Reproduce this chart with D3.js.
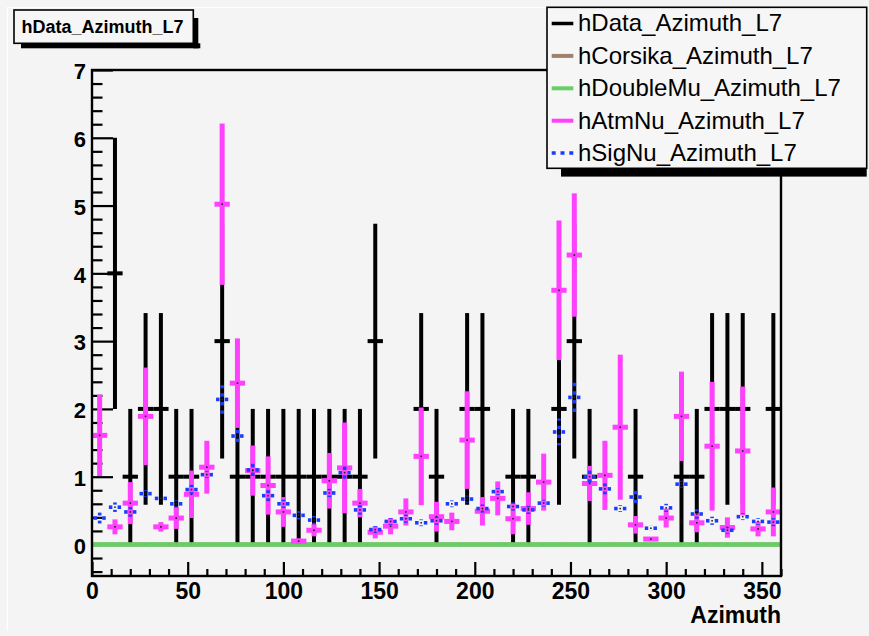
<!DOCTYPE html>
<html>
<head>
<meta charset="utf-8">
<script src="https://cdn.jsdelivr.net/npm/d3@7"></script>
<style>
  html, body { margin: 0; padding: 0; background: #f4f4f4; }
  svg { display: block; }
  text { font-family: "Liberation Sans", Arial, Helvetica, sans-serif; }
</style>
</head>
<body>
<svg id="chart" width="869" height="636"></svg>
<script>
// Azimuth binning: 45 bins of 8 degrees between 0 and 360
const binEdges = d3.range(0, 361, 8);

// hData_Azimuth_L7 : event counts and their errors
const dataCounts = [0,4,1,2,2,1,1,0,3,1,1,1,1,1,1,1,1,1,3,0,0,2,1,0,2,2,0,1,1,0,2,3,1,0,0,1,0,0,1,1,2,2,2,0,2];
const dataErrors = [0,2,1,1.414,1.414,1,1,0,1.732,1,1,1,1,1,1,1,1,1,1.732,0,0,1.414,1,0,1.414,1.414,0,1,1,0,1.414,1.732,1,0,0,1,0,0,1,1,1.414,1.414,1.414,0,1.414];

// hCorsika_Azimuth_L7 and hDoubleMu_Azimuth_L7 : empty in every bin
const corsikaValues  = new Array(45).fill(0);
const doubleMuValues = new Array(45).fill(0);

// hAtmNu_Azimuth_L7 : weighted expectation and errors
const atmNuValues = [1.61,0.26,0.61,1.89,0.26,0.39,0.74,1.14,5.02,2.38,1.09,0.87,0.48,0.05,0.21,0.94,1.13,0.61,0.18,0.27,0.48,1.30,0.41,0.34,1.54,0.49,0.68,0.38,0.53,0.92,3.75,4.27,0.90,1.02,1.73,0.29,0.08,0.39,1.89,0.32,1.45,0.25,1.38,0.23,0.48];
const atmNuErrors = [0.60,0.11,0.31,0.72,0.07,0.16,0.35,0.39,1.19,0.66,0.37,0.43,0.22,0.04,0.09,0.41,0.67,0.21,0.09,0.12,0.20,0.72,0.22,0.13,0.72,0.21,0.25,0.23,0.24,0.42,1.03,0.91,0.26,0.51,1.07,0.13,0.03,0.14,0.66,0.14,0.95,0.15,0.95,0.11,0.36];

// hSigNu_Azimuth_L7 : weighted signal expectation and errors
const sigNuValues = [0.39,0.55,0.48,0.75,0.68,0.60,0.81,1.03,2.14,1.60,1.10,0.72,0.60,0.43,0.36,0.76,1.06,0.51,0.22,0.34,0.38,0.32,0.35,0.60,0.67,0.53,0.78,0.56,0.51,0.61,1.66,2.17,1.00,0.82,0.53,0.70,0.24,0.54,0.89,0.45,0.35,0.21,0.41,0.34,0.33];
const sigNuErrors = [0.08,0.07,0.07,0.05,0.04,0.05,0.07,0.05,0.21,0.15,0.14,0.08,0.06,0.06,0.06,0.06,0.11,0.07,0.05,0.05,0.06,0.05,0.06,0.05,0.05,0.06,0.05,0.06,0.06,0.05,0.20,0.22,0.10,0.08,0.05,0.14,0.04,0.06,0.05,0.07,0.06,0.05,0.05,0.05,0.06];

// Axis ticks and legend entries
const xMajorTicks = [0,50,100,150,200,250,300,350];
const xMinorTicks = d3.range(0, 361, 10).filter(v => v % 50 !== 0);
const yMajorTicks = [0,1,2,3,4,5,6,7];
const yMinorTicks = d3.range(-0.4, 7.0001, 0.2).map(v => +v.toFixed(1)).filter(v => Math.abs(v - Math.round(v)) > 1e-6);
const legendNames = ["hData_Azimuth_L7","hCorsika_Azimuth_L7","hDoubleMu_Azimuth_L7","hAtmNu_Azimuth_L7","hSigNu_Azimuth_L7"];
const legendColors = ["#000000","#a0806e","#66d066","#ff40ff","#1a3cff"];

const svg = d3.select("#chart");
const W = 869, H = 636;
const frame = {left: 92, right: 781, top: 70, bottom: 576};

const x = d3.scaleLinear().domain([0, 360]).range([frame.left, frame.right]);
const y = d3.scaleLinear().domain([-0.465, 7]).range([frame.bottom, frame.top]);

// canvas background and pad edge
svg.append("rect").attr("width", W).attr("height", H).attr("fill", "#f4f4f4");
svg.append("path")
  .attr("d", "M7.5,630.5 V7.5 H864.5")
  .attr("fill", "none").attr("stroke", "#ffffff").attr("stroke-width", 1.2);

const plot = svg.append("g");
plot.append("clipPath").attr("id", "frameClip")
  .append("rect").attr("x", frame.left).attr("y", frame.top)
  .attr("width", frame.right - frame.left).attr("height", frame.bottom - frame.top);

// axes first, histograms are painted over the ticks
const axes = plot.append("g");
const yAxisMajor = d3.axisLeft(y).tickValues(yMajorTicks).tickFormat(d3.format("d"))
  .tickSizeInner(-21).tickSizeOuter(0).tickPadding(6);
const yAxisMinor = d3.axisLeft(y).tickValues(yMinorTicks).tickFormat("")
  .tickSizeInner(-10.5).tickSizeOuter(0);
const xAxisMajor = d3.axisBottom(x).tickValues(xMajorTicks).tickFormat(d3.format("d"))
  .tickSizeInner(-14).tickSizeOuter(0).tickPadding(7);
const xAxisMinor = d3.axisBottom(x).tickValues(xMinorTicks).tickFormat("")
  .tickSizeInner(-7).tickSizeOuter(0);

function styleAxis(sel) {
  sel.select(".domain").remove();
  sel.selectAll(".tick line").attr("stroke", "#000").attr("stroke-width", 2.2);
}

axes.append("g").attr("transform", `translate(${frame.left},0)`).call(yAxisMinor).call(styleAxis);
const yg = axes.append("g").attr("transform", `translate(${frame.left},0)`).call(yAxisMajor).call(styleAxis);
yg.selectAll(".tick text")
  .attr("font-size", 22).attr("font-weight", "bold").attr("fill", "#000")
  .attr("dy", "0.40em").attr("font-family", "Liberation Sans, Arial, sans-serif");

axes.append("g").attr("transform", `translate(0,${frame.bottom})`).call(xAxisMinor).call(styleAxis);
const xg = axes.append("g").attr("transform", `translate(0,${frame.bottom})`).call(xAxisMajor).call(styleAxis);
xg.selectAll(".tick text")
  .attr("font-size", 23).attr("font-weight", "bold").attr("fill", "#000")
  .attr("font-family", "Liberation Sans, Arial, sans-serif");

const hists = plot.append("g").attr("clip-path", "url(#frameClip)");

// One histogram drawn as error crosses: horizontal bar across the bin, vertical bar for the error
function drawHist(values, errors, opts) {
  const g = hists.append("g")
    .attr("stroke", opts.color).attr("stroke-width", opts.width).attr("fill", "none");
  if (opts.dash) g.attr("stroke-dasharray", opts.dash);
  values.forEach((v, i) => {
    if (opts.skipEmpty && v === 0) return;
    const lo = binEdges[i], hi = binEdges[i + 1];
    const c = (lo + hi) / 2;
    const cx = x(c), cy = y(v);
    const gap = opts.gap || 0;
    const e = errors ? errors[i] : 0;
    // horizontal halves
    g.append("line").attr("x1", cx - gap).attr("x2", x(lo)).attr("y1", cy).attr("y2", cy);
    g.append("line").attr("x1", cx + gap).attr("x2", x(hi)).attr("y1", cy).attr("y2", cy);
    // vertical halves
    if (e > 0) {
      const up = y(v + e), dn = y(v - e);
      if (cy - gap > up) g.append("line").attr("x1", cx).attr("x2", cx).attr("y1", cy - gap).attr("y2", up);
      if (cy + gap < dn) g.append("line").attr("x1", cx).attr("x2", cx).attr("y1", cy + gap).attr("y2", dn);
    }
    if (opts.dot) {
      hists.append("rect").attr("x", cx - 0.8).attr("y", cy - 0.8)
        .attr("width", 1.6).attr("height", 1.6).attr("fill", "#222");
    }
  });
}

drawHist(dataCounts, dataErrors, {color: "#000000", width: 4, skipEmpty: true});

// flat Corsika and DoubleMu histograms along zero
hists.append("line").attr("x1", frame.left).attr("x2", frame.right)
  .attr("y1", y(corsikaValues[0])).attr("y2", y(corsikaValues[0]))
  .attr("stroke", legendColors[1]).attr("stroke-width", 4);
drawHist(doubleMuValues, null, {color: legendColors[2], width: 4.5});

drawHist(atmNuValues, atmNuErrors, {color: legendColors[3], width: 5, dot: true});
drawHist(sigNuValues, sigNuErrors, {color: legendColors[4], width: 3.6, dash: "3.5,5", gap: 2.6, dot: true});

// frame
plot.append("rect")
  .attr("x", frame.left).attr("y", frame.top)
  .attr("width", frame.right - frame.left).attr("height", frame.bottom - frame.top)
  .attr("fill", "none").attr("stroke", "#000").attr("stroke-width", 2.4);

// x axis title
svg.append("text")
  .attr("x", frame.right).attr("y", 623)
  .attr("text-anchor", "end").attr("font-size", 23).attr("font-weight", "bold")
  .text("Azimuth");

// title box with shadow
const tb = {x1: 14, y1: 10, x2: 193.3, y2: 43.3};
svg.append("rect").attr("x", tb.x1 + 7).attr("y", tb.y2).attr("width", tb.x2 - tb.x1).attr("height", 5).attr("fill", "#000");
svg.append("rect").attr("x", tb.x2).attr("y", tb.y1 + 8).attr("width", 5).attr("height", tb.y2 - tb.y1 - 3).attr("fill", "#000");
svg.append("rect").attr("x", tb.x1).attr("y", tb.y1).attr("width", tb.x2 - tb.x1).attr("height", tb.y2 - tb.y1)
  .attr("fill", "#f6f6f6").attr("stroke", "#000").attr("stroke-width", 1.6);
svg.append("text").attr("x", 21.5).attr("y", 32.6)
  .attr("font-size", 18).attr("font-weight", "bold").text("hData_Azimuth_L7");

// legend with shadow
const lb = {x1: 547, y1: 7.3, x2: 866.7, y2: 168.3};
svg.append("rect").attr("x", lb.x1 + 14).attr("y", lb.y2).attr("width", lb.x2 - lb.x1 - 14).attr("height", 8.3).attr("fill", "#000");
svg.append("rect").attr("x", lb.x1).attr("y", lb.y1).attr("width", lb.x2 - lb.x1).attr("height", lb.y2 - lb.y1)
  .attr("fill", "#f6f6f6").attr("stroke", "#000").attr("stroke-width", 1.6);

const legendRows = svg.append("g").selectAll("g").data(legendNames).join("g")
  .attr("transform", (d, i) => `translate(0,${23.5 + i * 32.4})`);
legendRows.append("line")
  .attr("x1", 551.7).attr("x2", 573.3).attr("y1", 0).attr("y2", 0)
  .attr("stroke", (d, i) => legendColors[i])
  .attr("stroke-width", (d, i) => i === 0 ? 3.5 : (i === 4 ? 3.5 : 4))
  .attr("stroke-dasharray", (d, i) => i === 4 ? "4,4.8" : null);
legendRows.append("text")
  .attr("x", 578).attr("y", 7.8)
  .attr("font-size", 24).attr("fill", "#000")
  .text(d => d);
</script>
</body>
</html>
